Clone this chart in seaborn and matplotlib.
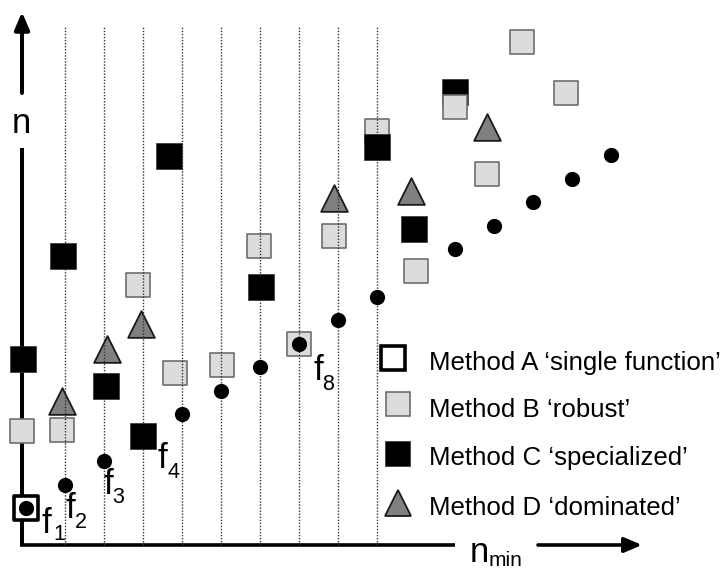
import matplotlib
matplotlib.use("Agg")
import matplotlib.pyplot as plt
import seaborn as sns
import pandas as pd

# ---- data -------------------------------------------------------------
# single-function optima f_i (n_min, n)
f_nmin = [1, 2, 3, 4, 5, 6, 7, 8, 9, 10, 11, 12, 13, 14, 15, 16]
f_n = [1, 2, 3, 4, 5, 6, 7, 8, 9, 10, 11, 12, 13, 14, 15, 16]
f_labelled = [1, 2, 3, 4, 8]
f_hidden = [4, 11]          # f points lying underneath a method's square

# Method A 'single function'
a_nmin = [1]
a_n = [1]

# Method B 'robust'
b_nmin = [0.9, 1.92, 3.87, 4.82, 6.03, 6.97, 8.0, 8.9, 10.0, 11.0, 12.0, 12.82, 13.72, 14.85]
b_n = [4.28, 4.34, 10.49, 6.74, 7.09, 12.15, 8.0, 12.57, 17.06, 11.1, 18.06, 15.21, 20.83, 18.66]
b_front = [12.0]            # B squares stacked over a C square

# Method C 'specialized'
c_nmin = [0.92, 1.95, 3.05, 4.0, 4.67, 7.02, 10.0, 10.95, 12.0]
c_n = [7.34, 11.72, 6.19, 4.05, 15.98, 10.4, 16.38, 12.87, 18.72]

# Method D 'dominated'
d_nmin = [1.92, 3.08, 3.95, 8.9, 10.87, 12.82]
d_n = [5.57, 7.77, 8.83, 14.21, 14.49, 17.21]

legend_labels = ["Method A \u2018single function\u2019", "Method B \u2018robust\u2019",
                 "Method C \u2018specialized\u2019", "Method D \u2018dominated\u2019"]
x_label_main, x_label_sub = "n", "min"
y_label = "n"

# ---- style ------------------------------------------------------------
sns.set_style("white")
plt.rcParams["font.family"] = ["Liberation Sans", "DejaVu Sans"]
plt.rcParams["text.color"] = "black"

W, H = 723, 573
fig = plt.figure(figsize=(W / 100, H / 100), dpi=100)
ax = fig.add_axes([0, 0, 1, 1])
# 39 px per n_min unit, 23.5 px per n unit; f_1 sits at pixel (26, 508)
ax.set_xlim(1 - 26 / 39, 1 + (W - 26) / 39)
ax.set_ylim(1 - (H - 508) / 23.5, 1 + 508 / 23.5)
ax.set_axis_off()


def to_data(px, py):
    return 1 + (px - 26) / 39, 1 + (508 - py) / 23.5


LIGHT, LIGHT_EDGE = "#dcdcdc", "#6e6e6e"
TRI, TRI_EDGE = "#808080", "#1a1a1a"

# ---- axes arrows --------------------------------------------------------
x0, y_bottom = to_data(22, 545)
_, y_top = to_data(0, 12)
_, y_gap_lo = to_data(0, 148)
_, y_gap_hi = to_data(0, 93)
x_gap_lo, _ = to_data(455, 0)
x_gap_hi, _ = to_data(538, 0)
x_tip, _ = to_data(642, 0)
x_left, _ = to_data(20, 0)

ax.plot([x0, x0], [y_bottom, y_gap_lo], color="black", lw=2.9, solid_capstyle="butt", zorder=1)
ax.plot([x_left, x_gap_lo], [y_bottom, y_bottom], color="black", lw=2.6, solid_capstyle="butt", zorder=1)
arrow = dict(arrowstyle="-|>,head_length=0.75,head_width=0.32", color="black",
             shrinkA=0, shrinkB=0, mutation_scale=14)
ax.annotate("", xy=(x0, y_top), xytext=(x0, y_gap_hi), arrowprops=dict(arrow, lw=2.9), zorder=1)
ax.annotate("", xy=(x_tip, y_bottom), xytext=(x_gap_hi, y_bottom), arrowprops=dict(arrow, lw=2.6), zorder=1)

ax.text(*to_data(21, 124), y_label, fontsize=25, ha="center", va="center")
ax.text(*to_data(470, 562), x_label_main, fontsize=25, ha="left", va="baseline")
ax.text(*to_data(489, 566), x_label_sub, fontsize=15, ha="left", va="baseline")

# ---- dotted guides through f_2 .. f_10 ----------------------------------
_, guide_top = to_data(0, 27)
ax.vlines(f_nmin[1:10], y_bottom, guide_top, colors="#333333", lw=1.0,
          linestyles=(0, (1, 1.2)), zorder=3)

# ---- markers ------------------------------------------------------------
df_f = pd.DataFrame({"n_min": f_nmin, "n": f_n})
hidden = df_f["n_min"].isin(f_hidden)
sns.scatterplot(data=df_f[hidden], x="n_min", y="n", ax=ax, marker="o", s=120,
                color="black", linewidth=0, zorder=1.5, legend=False)
sns.scatterplot(data=df_f[~hidden], x="n_min", y="n", ax=ax, marker="o", s=120,
                color="black", linewidth=0, zorder=7, legend=False)

df_b = pd.DataFrame({"n_min": b_nmin, "n": b_n})
front = df_b["n_min"].isin(b_front)
b_kw = dict(marker="s", s=295, color=LIGHT, edgecolor=LIGHT_EDGE, linewidth=1.2, legend=False)
sns.scatterplot(data=df_b[~front], x="n_min", y="n", ax=ax, zorder=2, **b_kw)
sns.scatterplot(data=df_b[front], x="n_min", y="n", ax=ax, zorder=5, **b_kw)

df_c = pd.DataFrame({"n_min": c_nmin, "n": c_n})
sns.scatterplot(data=df_c, x="n_min", y="n", ax=ax, marker="s", s=335, color="black",
                edgecolor="#333333", linewidth=0.5, zorder=4, legend=False)

df_d = pd.DataFrame({"n_min": d_nmin, "n": d_n})
sns.scatterplot(data=df_d, x="n_min", y="n", ax=ax, marker="^", s=370, color=TRI,
                edgecolor=TRI_EDGE, linewidth=1.3, zorder=2, legend=False)

df_a = pd.DataFrame({"n_min": a_nmin, "n": a_n})
sns.scatterplot(data=df_a, x="n_min", y="n", ax=ax, marker="s", s=310, color="white",
                edgecolor="black", linewidth=2.6, zorder=6, legend=False)

# ---- f labels -------------------------------------------------------------
label_offsets = {1: (16, 25, 27, 32), 2: (0, 33, 10, 43), 3: (-1, 33, 8, 42),
                 4: (15, 30, 25, 40), 8: (14, 36, 23, 46)}
for i in f_labelled:
    fx, fy = f_nmin[i - 1], f_n[i - 1]
    dx, dy, sx, sy = label_offsets[i]
    ax.annotate("f", (fx, fy), xytext=(dx * 0.72, -dy * 0.72), textcoords="offset points",
                fontsize=25, ha="left", va="baseline", zorder=8)
    ax.annotate(str(i), (fx, fy), xytext=(sx * 0.72, -sy * 0.72), textcoords="offset points",
                fontsize=15.5, ha="left", va="baseline", zorder=8)

# ---- legend ---------------------------------------------------------------
legend_styles = [
    dict(marker="s", markersize=17, markerfacecolor="white", markeredgecolor="black", markeredgewidth=2.6),
    dict(marker="s", markersize=17, markerfacecolor=LIGHT, markeredgecolor=LIGHT_EDGE, markeredgewidth=1.2),
    dict(marker="s", markersize=18, markerfacecolor="black", markeredgecolor="#333333", markeredgewidth=0.5),
    dict(marker="^", markersize=19, markerfacecolor=TRI, markeredgecolor=TRI_EDGE, markeredgewidth=1.3),
]
legend_marker_px = [(393, 358), (398, 404), (397, 453), (398, 503)]
legend_text_base = [370, 417, 465, 515]
for label, style, (mx, my), tb in zip(legend_labels, legend_styles, legend_marker_px, legend_text_base):
    ax.plot(mx / W, 1 - my / H, transform=ax.transAxes, linestyle="none", zorder=8, **style)
    ax.text(429 / W, 1 - tb / H, label, transform=ax.transAxes, fontsize=18.6,
            ha="left", va="baseline", zorder=8)

fig.savefig("out.png", dpi=100)
